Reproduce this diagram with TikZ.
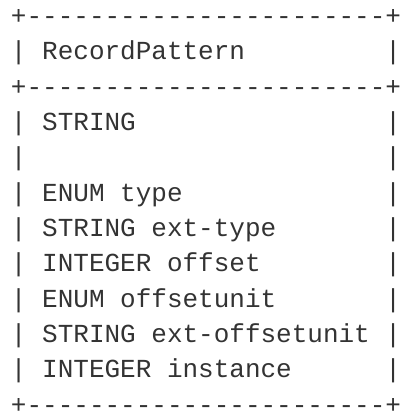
\documentclass[tikz,border=0pt]{standalone}
\usepackage{fontspec}
\newfontfamily\asciifont{Liberation Mono}
\definecolor{asciigray}{RGB}{51,51,51}

\tikzset{every picture/.style={line width=0.75pt}}
\tikzset{asciiline/.style={anchor=base west,inner sep=0pt,text=asciigray,font=\asciifont\fontsize{19.5}{19.5}\selectfont}}

\begin{document}
\begin{tikzpicture}[x=0.75pt,y=0.75pt,yscale=-1,xscale=1]
%set diagram size to the reference
\useasboundingbox (0,0) rectangle (402,417);

% Text Node
\node (boxtop) at (10.5,24.7) [asciiline] {+-----------------------+};
% Text Node
\node (title) at (10.5,60) [asciiline] {|~RecordPattern~~~~~~~~~|};
% Text Node
\node (midrule) at (10.5,95.3) [asciiline] {+-----------------------+};
% Text Node
\node (fstring) at (10.5,130.6) [asciiline] {|~STRING~~~~~~~~~~~~~~~~|};
% Text Node
\node (fblank) at (10.5,165.9) [asciiline] {|~~~~~~~~~~~~~~~~~~~~~~~|};
% Text Node
\node (ftype) at (10.5,201.2) [asciiline] {|~ENUM~type~~~~~~~~~~~~~|};
% Text Node
\node (fexttype) at (10.5,236.5) [asciiline] {|~STRING~ext-type~~~~~~~|};
% Text Node
\node (foffset) at (10.5,271.8) [asciiline] {|~INTEGER~offset~~~~~~~~|};
% Text Node
\node (funit) at (10.5,307.1) [asciiline] {|~ENUM~offsetunit~~~~~~~|};
% Text Node
\node (fextunit) at (10.5,342.4) [asciiline] {|~STRING~ext-offsetunit~|};
% Text Node
\node (finstance) at (10.5,377.7) [asciiline] {|~INTEGER~instance~~~~~~|};
% Text Node
\node (boxbottom) at (10.5,413) [asciiline] {+-----------------------+};
\end{tikzpicture}
\end{document}
